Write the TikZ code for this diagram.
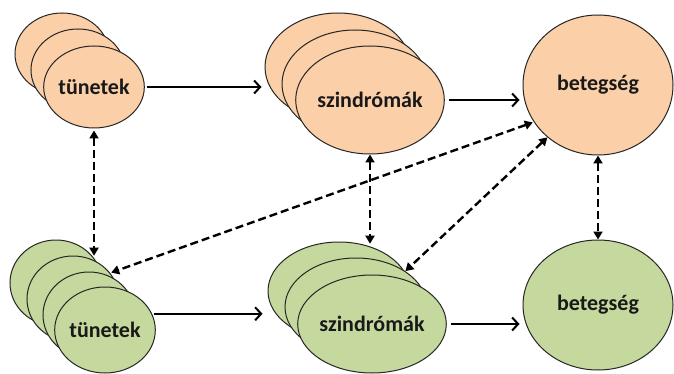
\documentclass[tikz,border=0pt]{standalone}
\usepackage{fontspec}
\setmainfont{Carlito}
\usetikzlibrary{shapes.geometric,arrows.meta}
\definecolor{peach}{HTML}{FBCFA8}
\definecolor{olive}{HTML}{C5D99E}
\begin{document}
\begin{tikzpicture}[x=1pt,y=-1pt,
  blob/.style={ellipse,draw=black!85,line width=1pt,inner sep=0pt,
    font=\fontsize{22}{24}\selectfont\bfseries,text=black!90},
  orangeblob/.style={blob,fill=peach},
  greenblob/.style={blob,fill=olive},
  solidarr/.style={line width=2.4pt,-{Straight Barb[length=6pt,width=13pt,line width=2pt]}},
  dasharr/.style={line width=2.4pt,dash pattern=on 8pt off 4pt,
    {Triangle[length=8pt,width=9pt]}-{Triangle[length=8pt,width=9pt]}}]
\useasboundingbox (0,0) rectangle (674,374);
\fill[white] (0,0) rectangle (674,374);
% top tunetek
\node[orangeblob,minimum width=94pt,minimum height=82pt] (ta3) at (62,54) {};
\node[orangeblob,minimum width=94pt,minimum height=82pt] (ta2) at (78,70) {};
\node[orangeblob,minimum width=94pt,minimum height=82pt] (ta1) at (94,87) {tünetek};
% top szindromak
\node[orangeblob,minimum width=146pt,minimum height=108pt] (sa3) at (338,67) {};
\node[orangeblob,minimum width=146pt,minimum height=108pt] (sa2) at (355,84) {};
\node[orangeblob,minimum width=146pt,minimum height=108pt] (sa1) at (370,100) {szindrómák};
% top betegseg
\node[orangeblob,minimum width=150pt,minimum height=140pt] (bt) at (598,85) {betegség};
% bottom tunetek
\node[greenblob,minimum width=92pt,minimum height=86pt] (tb4) at (56,283) {};
\node[greenblob,minimum width=92pt,minimum height=86pt] (tb3) at (73,299) {};
\node[greenblob,minimum width=92pt,minimum height=86pt] (tb2) at (89,315) {};
\node[greenblob,minimum width=92pt,minimum height=86pt] (tb1) at (105,330) {tünetek};
% bottom szindromak
\node[greenblob,minimum width=142pt,minimum height=98pt] (sb3) at (339,291) {};
\node[greenblob,minimum width=142pt,minimum height=98pt] (sb2) at (356,307) {};
\node[greenblob,minimum width=142pt,minimum height=98pt] (sb1) at (372,324) {szindrómák};
% bottom betegseg
\node[greenblob,minimum width=150pt,minimum height=130pt] (bb) at (598,305) {betegség};
% solid arrows
\draw[solidarr,shorten <=2pt,shorten >=3pt] (ta1.east) -- (ta1.east -| sa3.west);
\draw[solidarr,shorten <=4pt,shorten >=3pt] (sa1.east) -- (sa1.east -| bt.west);
\draw[solidarr,shorten <=2pt,shorten >=5pt] (tb1.19) -- (tb1.19 -| sb3.west);
\draw[solidarr,shorten <=4pt,shorten >=3pt] (sb1.east) -- (sb1.east -| bb.west);
% dashed arrows
\draw[dasharr,shorten <=2pt] (ta1.south) -- (ta1.south |- tb4.37);
\draw[dasharr] (sa1.south) -- (sa1.south |- sb3.66);
\draw[dasharr] (bt.south) -- (bb.north);
\draw[dasharr,shorten <=1pt,shorten >=1pt] (bt.210) -- (tb3.35);
\draw[dasharr] (bt.226) -- (sb2.36);
\end{tikzpicture}
\end{document}
